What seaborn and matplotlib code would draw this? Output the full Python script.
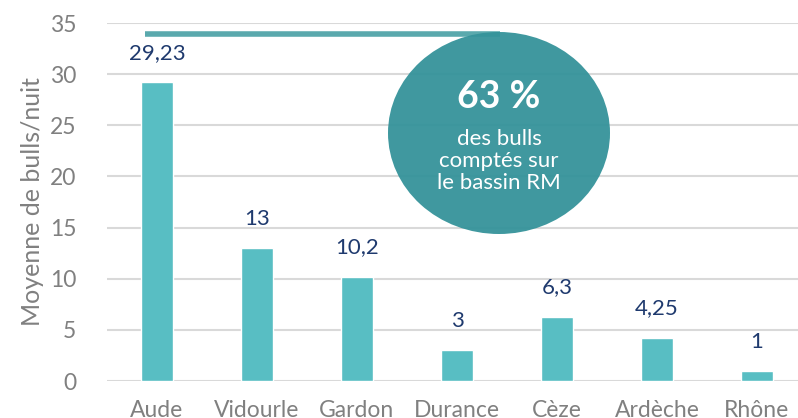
import matplotlib
matplotlib.use("Agg")
import matplotlib.pyplot as plt
import seaborn as sns
import pandas as pd
from matplotlib.patches import Ellipse

# ── Data ──────────────────────────────────────────────────────────────────────
rivers = ["Aude", "Vidourle", "Gardon", "Durance", "Cèze", "Ardèche", "Rhône"]
bulls_per_night = [29.23, 13, 10.2, 3, 6.3, 4.25, 1]
value_labels = ["29,23", "13", "10,2", "3", "6,3", "4,25", "1"]
y_ticks = [0, 5, 10, 15, 20, 25, 30, 35]

BAR_COLOR = "#58BEC3"
CIRCLE_COLOR = "#35939A"
LABEL_NAVY = "#1F3A6E"
GREY = "#808080"

df = pd.DataFrame({"river": rivers, "value": bulls_per_night})

sns.set_theme(style="white")
plt.rcParams["font.family"] = ["Lato", "DejaVu Sans"]

fig = plt.figure(figsize=(7.98, 4.18), dpi=100)
ax = fig.add_axes([107 / 798, 37 / 418, 1 - 107 / 798, 358 / 418])

sns.barplot(data=df, x="river", y="value", color=BAR_COLOR, width=0.32,
            saturation=1, ax=ax, zorder=3)

ax.set_xlim(-0.5, 6.41)
ax.set_ylim(0, 35)
ax.set_yticks(y_ticks)
ax.set_yticklabels([str(t) for t in y_ticks], color=GREY, fontsize=16.5)
ax.tick_params(axis="x", length=0, pad=14, labelsize=16.5, labelcolor=GREY)
ax.tick_params(axis="y", length=0, pad=22)
ax.yaxis.grid(True, color="#D9D9D9", linewidth=1.5, zorder=0)
ax.set_axisbelow(True)
for s in ax.spines.values():
    s.set_visible(False)

ax.set_xlabel("")
ax.set_ylabel("Moyenne de bulls/nuit", color=GREY, fontsize=18, labelpad=4)

# value labels above bars
for i, (v, lab) in enumerate(zip(bulls_per_night, value_labels)):
    ax.annotate(lab, (i, v), xytext=(0, 21), textcoords="offset points",
                ha="center", va="center", color=LABEL_NAVY, fontsize=16)

# bracket line + highlight bubble
ax.plot([-0.12, 3.43], [33.9, 33.9], color="#5AA9AD", linewidth=4,
        solid_capstyle="butt", zorder=4)
bubble = Ellipse((499 / 798, 1 - 133 / 418), 222 / 798, 202 / 418,
                 transform=fig.transFigure, facecolor=CIRCLE_COLOR,
                 edgecolor="none", alpha=0.95, zorder=5)
fig.patches.append(bubble)
fig.text(499 / 798, 1 - 97 / 418, "63 %", ha="center", va="center",
         color="white", fontsize=27, fontweight="bold", zorder=6)
fig.text(499 / 798, 1 - 161 / 418, "des bulls\ncomptés sur\nle bassin RM",
         ha="center", va="center", color="white", fontsize=16,
         linespacing=1.1, zorder=6)

fig.savefig("out.png", dpi=100)
